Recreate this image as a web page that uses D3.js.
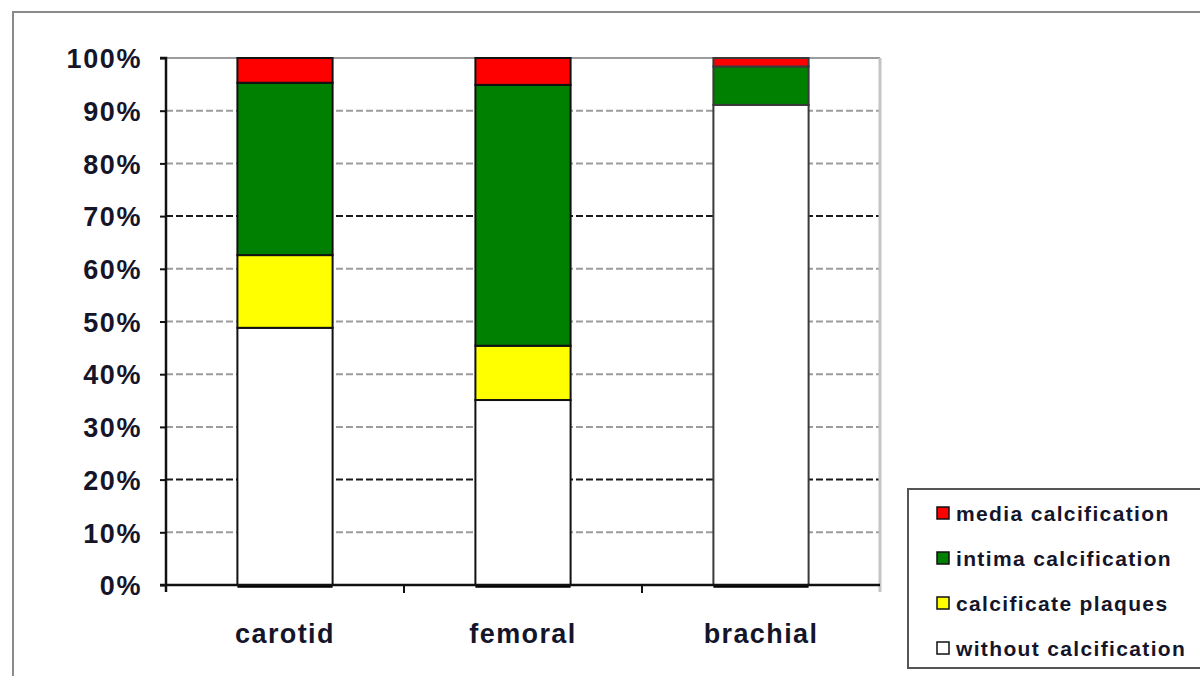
<!DOCTYPE html>
<html>
<head>
<meta charset="utf-8">
<script src="https://cdn.jsdelivr.net/npm/d3@7"></script>
<style>
  html, body { margin: 0; padding: 0; background: #fff; }
  svg { display: block; }
  text { font-family: "Liberation Sans", Arial, sans-serif; font-weight: bold; fill: #15152a; }
</style>
</head>
<body>
<svg id="chart" width="1200" height="676"></svg>
<script>
// Arteries compared
const categories = ["carotid", "femoral", "brachial"];

// Share of each finding per artery (percent), stacked bottom to top
const withoutCalcification = [48.8, 35.1, 91.1];
const calcificatePlaques   = [13.8, 10.3, 0.0];
const intimaCalcification  = [32.7, 49.5, 7.3];
const mediaCalcification   = [4.7, 5.1, 1.6];

const seriesNames  = ["without calcification", "calcificate plaques", "intima calcification", "media calcification"];
const seriesColors = ["#ffffff", "#ffff00", "#008000", "#ff0000"];

const yTicks = [0, 10, 20, 30, 40, 50, 60, 70, 80, 90, 100];
const darkGridTicks = [20, 70];

const svg = d3.select("#chart");

// outer frame
svg.append("rect")
  .attr("x", 13).attr("y", 12).attr("width", 1200).attr("height", 700)
  .attr("fill", "none").attr("stroke", "#8a8a8a").attr("stroke-width", 2);

const plot = { left: 166, right: 880, top: 58, bottom: 585 };

const x = d3.scaleBand().domain(categories)
  .range([plot.left, plot.right]).paddingInner(0.6).paddingOuter(0.3);
const y = d3.scaleLinear().domain([0, 100]).range([plot.bottom, plot.top]);

// gridlines
svg.append("g").selectAll("line").data(yTicks.filter(t => t > 0)).join("line")
  .attr("x1", plot.left).attr("x2", plot.right)
  .attr("y1", d => y(d)).attr("y2", d => y(d))
  .attr("stroke", d => darkGridTicks.includes(d) ? "#1a1a1a" : "#9c9c9c")
  .attr("stroke-width", 2)
  .attr("stroke-dasharray", d => d === 100 ? null : "7,3");

// right edge of plot area
svg.append("line")
  .attr("x1", plot.right).attr("x2", plot.right)
  .attr("y1", plot.top).attr("y2", plot.bottom + 7)
  .attr("stroke", "#c4c4c4").attr("stroke-width", 3);

// stacked bars
const table = categories.map((c, i) => ({
  category: c,
  [seriesNames[0]]: withoutCalcification[i],
  [seriesNames[1]]: calcificatePlaques[i],
  [seriesNames[2]]: intimaCalcification[i],
  [seriesNames[3]]: mediaCalcification[i]
}));
const stacked = d3.stack().keys(seriesNames)(table);

stacked.forEach((layer, k) => {
  svg.append("g").selectAll("rect").data(layer.filter(d => d[1] - d[0] > 0)).join("rect")
    .attr("x", d => x(d.data.category))
    .attr("width", x.bandwidth())
    .attr("y", d => y(d[1]))
    .attr("height", d => y(d[0]) - y(d[1]))
    .attr("fill", seriesColors[k])
    .attr("stroke", d => d.data.category === "brachial" ? "#3a3a3a" : "#111")
    .attr("stroke-width", 2);
});

// heavy base line under each bar
svg.append("g").selectAll("line").data(categories).join("line")
  .attr("x1", d => x(d)).attr("x2", d => x(d) + x.bandwidth())
  .attr("y1", plot.bottom + 1).attr("y2", plot.bottom + 1)
  .attr("stroke", "#000").attr("stroke-width", 3.5);

// y axis
const yAxis = d3.axisLeft(y).tickValues(yTicks).tickFormat(d => d + "%").tickSize(6).tickPadding(20);
const gy = svg.append("g").attr("transform", `translate(${plot.left},0)`).call(yAxis);
gy.select(".domain").attr("stroke", "#111").attr("stroke-width", 2.5)
  .attr("d", `M-6,${plot.top}H0V${plot.bottom + 7}`);
gy.selectAll(".tick line").attr("stroke", "#111").attr("stroke-width", 2);
gy.selectAll(".tick text").style("font-size", "27px").style("letter-spacing", "1.6px")
  .attr("dy", "0.36em").attr("x", -24);

// x axis
const xAxis = d3.axisBottom(x).tickSize(0).tickPadding(39);
const gx = svg.append("g").attr("transform", `translate(0,${plot.bottom})`).call(xAxis);
gx.select(".domain").attr("stroke", "#111").attr("stroke-width", 2.5)
  .attr("d", `M${plot.left - 6},0H${plot.right}`);
gx.selectAll(".tick text").style("font-size", "27px").style("letter-spacing", "1.4px");

// category separators on x axis
const bounds = categories.slice(1).map(c => x(c) - x.step() * x.paddingInner() / 2);
svg.append("g").selectAll("line").data(bounds).join("line")
  .attr("x1", d => d).attr("x2", d => d)
  .attr("y1", plot.bottom).attr("y2", plot.bottom + 8)
  .attr("stroke", "#111").attr("stroke-width", 2);

// legend
const legend = svg.append("g").attr("transform", "translate(908,489)");
legend.append("rect").attr("width", 320).attr("height", 179)
  .attr("fill", "#fff").attr("stroke", "#555").attr("stroke-width", 2);
const legendOrder = [3, 2, 1, 0];
const rows = legend.selectAll("g.row").data(legendOrder).join("g")
  .attr("class", "row")
  .attr("transform", (d, i) => `translate(0,${24 + i * 45})`);
rows.append("rect").attr("x", 29).attr("y", -6).attr("width", 12).attr("height", 12)
  .attr("fill", d => seriesColors[d]).attr("stroke", "#111").attr("stroke-width", 1.5);
rows.append("text").attr("x", 48).attr("dy", "0.36em")
  .style("font-size", "21px").style("letter-spacing", "1.35px")
  .text(d => seriesNames[d]);
</script>
</body>
</html>
